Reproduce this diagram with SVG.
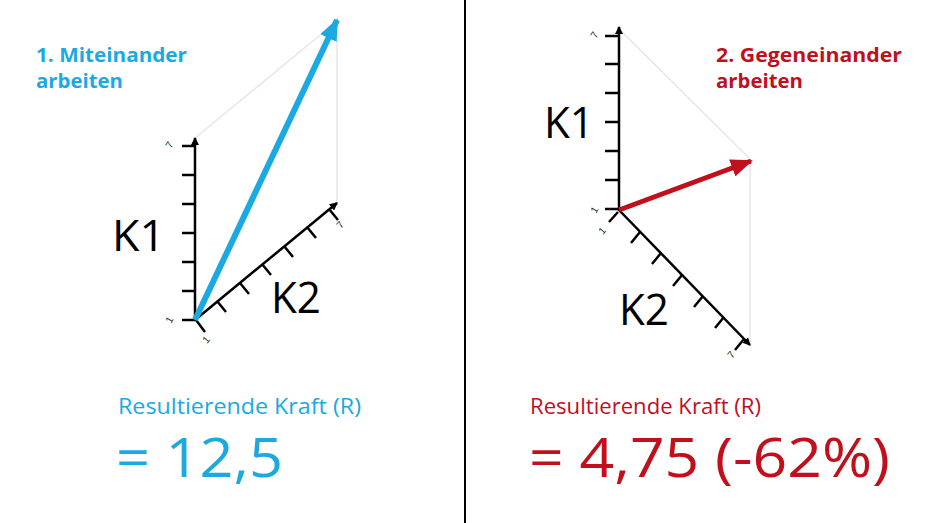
<svg xmlns="http://www.w3.org/2000/svg" width="930" height="523" viewBox="0 0 930 523">
<style>
.ax{stroke:#000;stroke-width:2.5;fill:none}
.tk{stroke:#000;stroke-width:2.5}
.gl{stroke:#e6e6e6;stroke-width:1.5;fill:none}
.big{font-family:"Open Sans","Liberation Sans",sans-serif;font-size:43px;fill:#000}
.sm{font-family:"Liberation Sans",sans-serif;font-size:10px;fill:#222}
.tb{font-family:"Open Sans","Liberation Sans",sans-serif;font-size:20px;font-weight:bold}
.rs{font-family:"Open Sans","Liberation Sans",sans-serif;font-size:22px}
.eq{font-family:"Open Sans","Liberation Sans",sans-serif;font-size:54px}
.blue{fill:#1ba9e1}
.red{fill:#c10f1c}
</style>
<defs>
<marker id="ah" markerWidth="8" markerHeight="8" refX="7" refY="4" orient="auto" markerUnits="userSpaceOnUse"><path d="M0,0 L8,4 L0,8 Z" fill="#000"/></marker>
<marker id="ab" markerWidth="22" markerHeight="18" refX="20" refY="9" orient="auto" markerUnits="userSpaceOnUse"><path d="M0,0 L22,9 L0,18 Z" fill="#1ba9e1"/></marker>
<marker id="ar" markerWidth="22" markerHeight="18" refX="20" refY="9" orient="auto" markerUnits="userSpaceOnUse"><path d="M0,0 L22,9 L0,18 Z" fill="#c10f1c"/></marker>
</defs>
<rect width="930" height="523" fill="#fff"/>
<line x1="465" y1="0" x2="465" y2="523" stroke="#000" stroke-width="2"/>

<g id="left-diagram">
<g id="left-guides">
<line class="gl" x1="195" y1="138" x2="336" y2="22"/>
<line class="gl" x1="337" y1="24" x2="337" y2="202"/>
</g>
<g id="left-k1-axis">
<line class="ax" x1="195" y1="321" x2="195" y2="138" marker-end="url(#ah)"/>
<line class="tk" x1="182" y1="320" x2="195" y2="320"/>
<line class="tk" x1="182" y1="291" x2="195" y2="291"/>
<line class="tk" x1="182" y1="262" x2="195" y2="262"/>
<line class="tk" x1="182" y1="233" x2="195" y2="233"/>
<line class="tk" x1="182" y1="204" x2="195" y2="204"/>
<line class="tk" x1="182" y1="175" x2="195" y2="175"/>
<line class="tk" x1="182" y1="146" x2="195" y2="146"/>
<text class="sm" transform="translate(171,149) rotate(-60)">7</text>
<text class="sm" transform="translate(171,324) rotate(-60)">1</text>
<text class="big" x="112" y="251" textLength="53" lengthAdjust="spacingAndGlyphs">K1</text>
</g>
<g id="left-k2-axis">
<line class="ax" x1="195" y1="320" x2="337" y2="203" marker-end="url(#ah)"/>
<line class="tk" x1="196" y1="320" x2="205" y2="332"/>
<line class="tk" x1="217" y1="301" x2="226" y2="312"/>
<line class="tk" x1="240" y1="283" x2="249" y2="294"/>
<line class="tk" x1="262" y1="264" x2="271" y2="275"/>
<line class="tk" x1="284" y1="246" x2="293" y2="257"/>
<line class="tk" x1="307" y1="227" x2="316" y2="238"/>
<line class="tk" x1="329" y1="209" x2="338" y2="220"/>
<text class="sm" transform="translate(207,344) rotate(-50)">1</text>
<text class="sm" transform="translate(341,229) rotate(-50)">7</text>
<text class="big" x="271" y="313" textLength="50" lengthAdjust="spacingAndGlyphs">K2</text>
</g>
<g id="left-result">
<line x1="195" y1="320" x2="337" y2="20" stroke="#1ba9e1" stroke-width="6" marker-end="url(#ab)"/>
</g>
<g id="left-title">
<text class="tb blue" x="36" y="62" textLength="151" lengthAdjust="spacingAndGlyphs">1. Miteinander</text>
<text class="tb blue" x="36" y="88" textLength="87" lengthAdjust="spacingAndGlyphs">arbeiten</text>
</g>
<g id="left-value">
<text class="rs blue" x="118" y="414" textLength="243" lengthAdjust="spacingAndGlyphs">Resultierende Kraft (R)</text>
<text class="eq blue" x="116" y="477" textLength="167" lengthAdjust="spacingAndGlyphs">= 12,5</text>
</g>
</g>

<g id="right-diagram">
<g id="right-guides">
<line class="gl" x1="620" y1="30" x2="749" y2="158"/>
<line class="gl" x1="750" y1="162" x2="750" y2="344"/>
</g>
<g id="right-k1-axis">
<line class="ax" x1="619" y1="211" x2="619" y2="27" marker-end="url(#ah)"/>
<line class="tk" x1="605" y1="209" x2="619" y2="209"/>
<line class="tk" x1="605" y1="180" x2="619" y2="180"/>
<line class="tk" x1="605" y1="151" x2="619" y2="151"/>
<line class="tk" x1="605" y1="122" x2="619" y2="122"/>
<line class="tk" x1="605" y1="93" x2="619" y2="93"/>
<line class="tk" x1="605" y1="64" x2="619" y2="64"/>
<line class="tk" x1="605" y1="36" x2="619" y2="36"/>
<text class="sm" transform="translate(596,39) rotate(-60)">7</text>
<text class="sm" transform="translate(596,214) rotate(-60)">1</text>
<text class="big" x="544" y="138" textLength="50" lengthAdjust="spacingAndGlyphs">K1</text>
</g>
<g id="right-k2-axis">
<line class="ax" x1="619" y1="210" x2="750" y2="345" marker-end="url(#ah)"/>
<line class="tk" x1="618" y1="212" x2="609" y2="222"/>
<line class="tk" x1="640" y1="232" x2="631" y2="243"/>
<line class="tk" x1="661" y1="253" x2="652" y2="264"/>
<line class="tk" x1="682" y1="275" x2="673" y2="286"/>
<line class="tk" x1="703" y1="296" x2="694" y2="307"/>
<line class="tk" x1="724" y1="317" x2="715" y2="328"/>
<line class="tk" x1="744" y1="339" x2="735" y2="350"/>
<text class="sm" transform="translate(603,235) rotate(-50)">1</text>
<text class="sm" transform="translate(732,359) rotate(-50)">7</text>
<text class="big" x="619" y="325" textLength="50" lengthAdjust="spacingAndGlyphs">K2</text>
</g>
<g id="right-result">
<line x1="619" y1="210" x2="751" y2="161" stroke="#c10f1c" stroke-width="5" marker-end="url(#ar)"/>
</g>
<g id="right-title">
<text class="tb red" x="716" y="62" textLength="186" lengthAdjust="spacingAndGlyphs">2. Gegeneinander</text>
<text class="tb red" x="716" y="88" textLength="87" lengthAdjust="spacingAndGlyphs">arbeiten</text>
</g>
<g id="right-value">
<text class="rs red" x="530" y="414" textLength="231" lengthAdjust="spacingAndGlyphs">Resultierende Kraft (R)</text>
<text class="eq red" x="529" y="477" textLength="361" lengthAdjust="spacingAndGlyphs">= 4,75 (-62%)</text>
</g>
</g>
</svg>
